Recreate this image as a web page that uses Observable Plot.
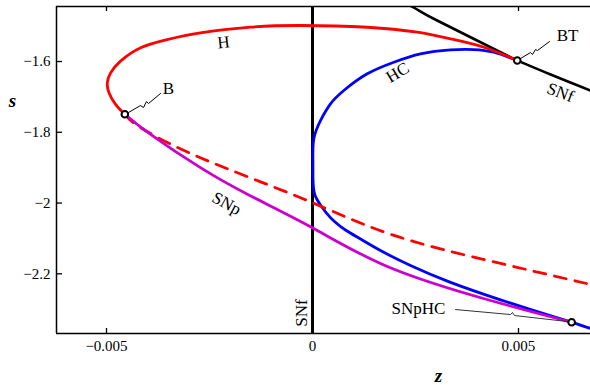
<!DOCTYPE html>
<html><head><meta charset="utf-8">
<script src="https://cdn.jsdelivr.net/npm/d3@7"></script>
<script src="https://cdn.jsdelivr.net/npm/@observablehq/plot@0.6"></script>
<style>
body{margin:0;background:#fff}
svg{display:block}
</style>
</head><body><div id="chart"></div>
<script>
// axis setup
const xDomain = [-0.0062136, 0.0067476];
const yDomain = [-2.3687, -1.4445];
const xTicks = [-0.005, 0, 0.005];
const xTickLabels = ["\u22120.005", "0", "0.005"];
const yTicks = [-2.2, -2, -1.8, -1.6];
const yTickLabels = ["\u22122.2", "\u22122", "\u22121.8", "\u22121.6"];

// H (Hopf, solid)
const hZ = [0.00497,0.004158,0.00335,0.002541,0.001328,-0.000291,-0.00150,-0.00272,-0.00353,-0.00417,-0.00466,-0.00490,-0.00498,-0.00494,-0.00478,-0.004555];
const hS = [-1.597,-1.5596,-1.5358,-1.5172,-1.5031,-1.4982,-1.503,-1.519,-1.538,-1.561,-1.599,-1.632,-1.660,-1.688,-1.721,-1.749];
// H dashed continuation
const hdZ = [-0.004555,-0.00417,-0.00272,-0.00029,0.00189,0.00432,0.00675];
const hdS = [-1.749,-1.787,-1.872,-1.985,-2.088,-2.164,-2.230];
// SNp
const snpZ = [-0.004555,-0.00393,-0.00272,-0.00150,0,0.00189,0.00432,0.00629];
const snpS = [-1.749,-1.806,-1.900,-1.980,-2.070,-2.183,-2.2755,-2.337];
// HC
const hcZ = [0.00497,0.00440,0.003915,0.00335,0.002621,0.001973,0.001328,0.00076,0.000437,0.000194,0.0000316,0.0000097,0.0000121,0.0000364,0.0000971,0.000194,0.00034,0.000534,0.000801,0.001165,0.00165,0.002379,0.00335,0.004563,0.005534,0.006262,0.006748];
const hcS = [-1.597,-1.5737,-1.5661,-1.567,-1.5783,-1.602,-1.6348,-1.682,-1.7196,-1.7668,-1.8185,-1.8798,-1.9307,-1.9674,-1.9872,-2.0056,-2.0282,-2.0522,-2.0763,-2.1017,-2.1342,-2.1766,-2.2241,-2.2735,-2.3097,-2.336,-2.3546];
// SNf (diagonal)
const snfZ = [0.002136,0.002541,0.003026,0.004563,0.00497,0.00578,0.00675];
const snfS = [-1.4276,-1.453,-1.4841,-1.5737,-1.597,-1.6367,-1.682];
// SNf vertical at z = 0
const snfVertical = [0];

// special points
const ptNames = ["B","BT","SNpHC"];
const ptZ = [-0.004555, 0.00497, 0.00629];
const ptS = [-1.749, -1.597, -2.337];

// leader lines
const leadB_Z = [-0.004466,-0.004175,-0.004102,-0.004029,-0.003981,-0.003689];
const leadB_S = [-1.7441,-1.7244,-1.7300,-1.7131,-1.7187,-1.6904];
const leadBT_Z = [0.005049,0.005291,0.005340,0.005413,0.005461,0.005752];
const leadBT_S = [-1.5915,-1.5746,-1.5802,-1.5661,-1.5689,-1.5435];
const leadSC_Z = [0.003471,0.004806,0.004854,0.004903,0.006189];
const leadSC_S = [-2.3010,-2.3151,-2.3094,-2.3179,-2.3349];

// curve labels
const labText = ["H","B","SNp","HC","SNf","SNf"];
const labZ = [-0.00216,-0.003495,-0.002087,0.002063,0.006019,-0.000255];
const labS = [-1.546,-1.676,-2.0014,-1.631,-1.6876,-2.3109];
const labRot = [-6,0,29,-31,21,-90];
const spacedText = ["BT","SNpHC"];
const spacedZ = [0.006189, 0.002573];
const spacedS = [-1.5265, -2.299];

// axis titles
const axTitle = ["s","z"];
const axTitleZ = [-0.007282, 0.003058];
const axTitleS = [-1.7102, -2.4875];

const FONT = "Liberation Serif";
const pts = (zs, ss) => zs.map((z, i) => ({z, s: ss[i]}));

const chart = Plot.plot({
  width: 590, height: 385,
  marginLeft: 56, marginRight: 0, marginTop: 6, marginBottom: 52,
  style: {fontFamily: FONT, fontSize: "15px", background: "#fff", color: "#000", overflow: "visible"},
  x: {domain: xDomain},
  y: {domain: yDomain},
  marks: [
    Plot.axisX({anchor: "bottom", ticks: xTicks, tickFormat: (d) => xTickLabels[xTicks.indexOf(d)], tickSize: -5, tickPadding: 12, label: null, strokeWidth: 1.3, fontFamily: FONT}),
    Plot.axisX({anchor: "top", ticks: xTicks, tickFormat: () => "", tickSize: -4, label: null, strokeWidth: 1.3}),
    Plot.axisY({anchor: "left", ticks: yTicks, tickFormat: (d) => yTickLabels[yTicks.indexOf(d)], tickSize: -6, tickPadding: 12, label: null, strokeWidth: 1.3, fontFamily: FONT}),
    Plot.ruleX([xDomain[0]], {stroke: "#000", strokeWidth: 1.5}),
    Plot.ruleY([yDomain[0], yDomain[1]], {stroke: "#000", strokeWidth: 1.5}),
    Plot.ruleX(snfVertical, {stroke: "#000", strokeWidth: 3}),
    Plot.line(pts(snfZ, snfS), {x: "z", y: "s", stroke: "#000", strokeWidth: 2.6, curve: "natural", clip: true}),
    Plot.line(pts(hcZ, hcS), {x: "z", y: "s", stroke: "#0000ff", strokeWidth: 2.8, curve: "natural", clip: true}),
    Plot.line(pts(hZ, hS), {x: "z", y: "s", stroke: "#ff0000", strokeWidth: 2.8, curve: "natural", clip: true}),
    Plot.line(pts(hdZ, hdS), {x: "z", y: "s", stroke: "#ff0000", strokeWidth: 2.8, strokeDasharray: "12,9", curve: "natural", clip: true}),
    Plot.line(pts(snpZ, snpS), {x: "z", y: "s", stroke: "#cc00cc", strokeWidth: 2.8, curve: "natural", clip: true}),
    Plot.line(pts(leadB_Z, leadB_S), {x: "z", y: "s", stroke: "#000", strokeWidth: 1}),
    Plot.line(pts(leadBT_Z, leadBT_S), {x: "z", y: "s", stroke: "#000", strokeWidth: 1}),
    Plot.line(pts(leadSC_Z, leadSC_S), {x: "z", y: "s", stroke: "#333", strokeWidth: 1}),
    Plot.dot(pts(ptZ, ptS), {x: "z", y: "s", r: 3.3, stroke: "#000", strokeWidth: 2, fill: "#fff"}),
    Plot.text(labText.map((t, i) => ({t, z: labZ[i], s: labS[i], r: labRot[i]})), {x: "z", y: "s", text: "t", rotate: "r", fontSize: 17, fontFamily: FONT, fill: "#000"}),
    Plot.text(spacedText.map((t, i) => ({t, z: spacedZ[i], s: spacedS[i]})), {x: "z", y: "s", text: "t", fontSize: 17, fontFamily: FONT, letterSpacing: 3, fill: "#000"}),
    Plot.text(axTitle.map((t, i) => ({t, z: axTitleZ[i], s: axTitleS[i]})), {x: "z", y: "s", text: "t", fontSize: 19, fontFamily: FONT, fontStyle: "italic", fontWeight: "bold", fill: "#000"})
  ]
});
document.getElementById("chart").append(chart);
</script>
</body></html>
